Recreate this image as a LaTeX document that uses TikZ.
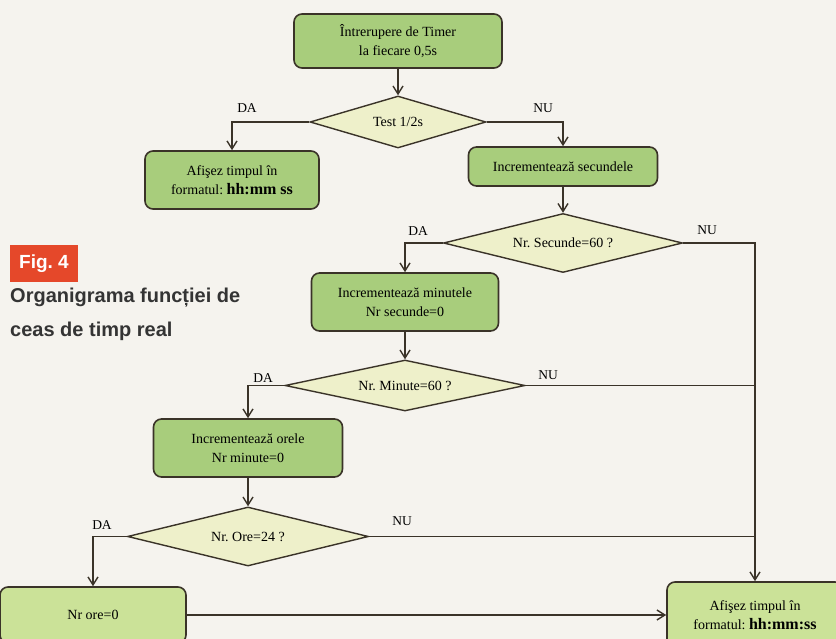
\documentclass[tikz,border=0pt]{standalone}
\usepackage{fontspec}
\setmainfont{Liberation Serif}
\newfontfamily\capfont{Liberation Sans}
\usetikzlibrary{arrows.meta,shapes.geometric}
\definecolor{paper}{HTML}{F5F3EE}
\definecolor{ink}{HTML}{3A3328}
\definecolor{boxgreen}{HTML}{A8CD7C}
\definecolor{lightgreen}{HTML}{CBE298}
\definecolor{cream}{HTML}{EEF0CA}
\definecolor{figred}{HTML}{E5482A}
\definecolor{captext}{HTML}{343434}
\frenchspacing
\begin{document}
\begin{tikzpicture}[x=1pt,y=-1pt,
  font=\fontsize{14}{19}\selectfont,
  box/.style={draw=ink,line width=1.6pt,rounded corners=8pt,fill=boxgreen,
    align=center,inner sep=0pt},
  endbox/.style={box,fill=lightgreen},
  test/.style={diamond,aspect=4,draw=ink,line width=1.4pt,fill=cream,inner sep=0pt},
  arr/.style={-{Straight Barb[length=8pt,width=10pt,line width=1.4pt]}},
  lbl/.style={font=\fontsize{13.5}{16}\selectfont}]
  \useasboundingbox (0,0) rectangle (836,639);
  \fill[paper] (0,0) rectangle (836,639);
  % caption
  \node[fill=figred,text=white,font=\capfont\bfseries\fontsize{19}{22}\selectfont,
    minimum width=68pt,minimum height=37pt,inner sep=0pt] (fig) at (44,263.5) {Fig. 4};
  \node[anchor=west,text=captext,font=\capfont\bfseries\fontsize{20}{24}\selectfont,
    inner sep=0pt] (cap1) at (10,298) {Organigrama funcției de};
  \node[anchor=west,text=captext,font=\capfont\bfseries\fontsize{20}{24}\selectfont,
    inner sep=0pt] (cap2) at (10,331) {ceas de timp real};
  % boxes and tests
  \node[box,minimum width=208pt,minimum height=54pt] (start) at (398,41)
    {Întrerupere de Timer\\la fiecare 0,5s};
  \node[test,minimum width=176pt,minimum height=52pt] (half) at (398,122) {Test 1/2s};
  \node[box,minimum width=174pt,minimum height=58pt] (showa) at (232,180)
    {Afişez timpul în\\formatul: {\bfseries\fontsize{16}{19}\selectfont hh:mm ss}};
  \node[box,minimum width=189pt,minimum height=39pt] (incsec) at (563,166.5)
    {Incrementează secundele};
  \node[test,minimum width=239pt,minimum height=59pt] (secq) at (563,243) {Nr. Secunde=60 ?};
  \node[box,minimum width=187pt,minimum height=58pt] (incmin) at (405,302)
    {Incrementează minutele\\Nr secunde=0};
  \node[test,minimum width=240pt,minimum height=51pt] (minq) at (405,385.5) {Nr. Minute=60 ?};
  \node[box,minimum width=189pt,minimum height=58pt] (incore) at (248,448)
    {Incrementează orele\\Nr minute=0};
  \node[test,minimum width=241pt,minimum height=59pt] (oreq) at (248,536.5) {Nr. Ore=24 ?};
  \node[endbox,minimum width=186pt,minimum height=56pt] (resetore) at (93,615) {Nr ore=0};
  \node[endbox,minimum width=176pt,minimum height=66pt] (showb) at (755,615)
    {Afişez timpul în\\formatul: {\bfseries\fontsize{16}{19}\selectfont hh:mm:ss}};
  % connectors
  \begin{scope}[draw=ink,line width=1.5pt]
    \draw[arr] (start) -- (half);
    \draw[arr] (half.west) -| (showa.north);
    \draw[arr] (half.east) -| (incsec.north);
    \draw[arr] (incsec) -- (secq);
    \draw[arr] (secq.west) -| (incmin.north);
    \draw[arr] (secq.east) -| (showb.north);
    \draw[arr] (incmin) -- (minq);
    \draw[arr] (minq.west) -| (incore.north);
    \draw (minq.east) -- (minq.east -| showb.north);
    \draw[arr] (incore) -- (oreq);
    \draw[arr] (oreq.west) -| (resetore.north);
    \draw (oreq.east) -- (oreq.east -| showb.north);
    \draw[arr] (resetore) -- (showb);
  \end{scope}
  % DA / NU
  \node[lbl] (da1) at (247,108) {DA};
  \node[lbl] (nu1) at (543,108) {NU};
  \node[lbl] (da2) at (418,231) {DA};
  \node[lbl] (nu2) at (707,230) {NU};
  \node[lbl] (da3) at (263,378) {DA};
  \node[lbl] (nu3) at (548,375) {NU};
  \node[lbl] (da4) at (102,525) {DA};
  \node[lbl] (nu4) at (402,521) {NU};
\end{tikzpicture}
\end{document}
